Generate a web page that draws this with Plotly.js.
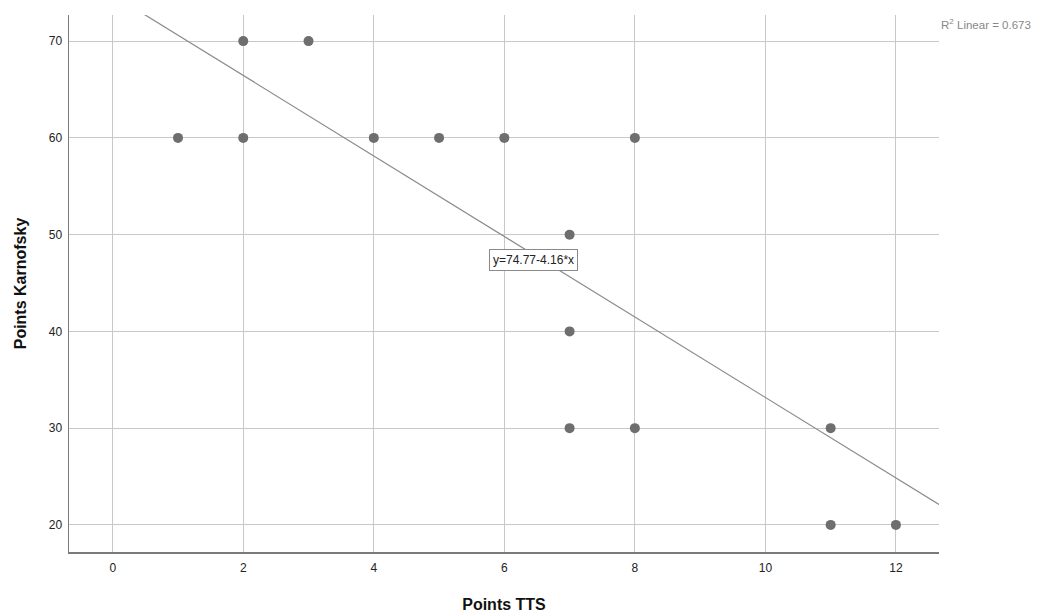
<!DOCTYPE html>
<html><head><meta charset="utf-8">
<script src="https://cdn.plot.ly/plotly-3.0.1.min.js"></script>
<style>html,body{margin:0;padding:0;background:#fff}#chart{width:1050px;height:614px}</style>
</head><body><div id="chart"></div>
<script>
const pointsTTS = [1, 2, 2, 3, 4, 5, 6, 8, 7, 7, 7, 8, 11, 11, 12];
const pointsKarnofsky = [60, 70, 60, 70, 60, 60, 60, 60, 50, 40, 30, 30, 30, 20, 20];
const fitIntercept = 74.77;
const fitSlope = -4.16;
const rSquared = 0.673;
const xTicks = [0, 2, 4, 6, 8, 10, 12];
const yTicks = [20, 30, 40, 50, 60, 70];
const xRange = [-0.67, 12.66];
const yRange = [17.2, 72.7];

const fitX = [xRange[0], xRange[1]];
const fitY = fitX.map(x => fitIntercept + fitSlope * x);

const traces = [
  {x: fitX, y: fitY, mode: 'lines', line: {color: '#8a8a8a', width: 1.2}, hoverinfo: 'skip', showlegend: false},
  {x: pointsTTS, y: pointsKarnofsky, mode: 'markers', marker: {color: '#6e6e6e', size: 10}, showlegend: false}
];

const layout = {
  width: 1050, height: 614,
  margin: {l: 69, r: 111, t: 15, b: 62},
  paper_bgcolor: '#ffffff', plot_bgcolor: '#ffffff',
  font: {family: 'Liberation Sans, Arial, sans-serif', size: 12, color: '#222'},
  showlegend: false,
  xaxis: {
    range: xRange, tickvals: xTicks, ticktext: xTicks.map(String),
    showgrid: true, gridcolor: '#c8c8c8', gridwidth: 1,
    zeroline: false, showline: true, linecolor: '#7a7a7a', linewidth: 1.5,
    ticks: '', ticklen: 0, ticklabelstandoff: 4,
    title: {text: 'Points TTS', font: {size: 16, color: '#111', weight: 'bold'}, standoff: 25}
  },
  yaxis: {
    range: yRange, tickvals: yTicks, ticktext: yTicks.map(String),
    showgrid: true, gridcolor: '#c8c8c8', gridwidth: 1,
    zeroline: false, showline: true, linecolor: '#7a7a7a', linewidth: 1.5,
    ticks: '', ticklen: 0, ticklabelstandoff: 3,
    title: {text: 'Points Karnofsky', font: {size: 16, color: '#111', weight: 'bold'}, standoff: 18}
  },
  annotations: [
    {x: 6.44, y: 47.4, xref: 'x', yref: 'y', text: 'y=' + fitIntercept.toFixed(2) + '-' + Math.abs(fitSlope).toFixed(2) + '*x',
     showarrow: false, font: {size: 12, color: '#222'}, bgcolor: '#ffffff', bordercolor: '#8a8a8a', borderwidth: 1, borderpad: 3},
    {x: 1, y: 1, xref: 'paper', yref: 'paper', xanchor: 'left', yanchor: 'top', xshift: 0, yshift: 0,
     text: 'R<sup>2</sup> Linear = ' + rSquared.toFixed(3), showarrow: false, font: {size: 11.5, color: '#888'}}
  ]
};

Plotly.newPlot('chart', traces, layout, {displayModeBar: false, staticPlot: true});
</script></body></html>
